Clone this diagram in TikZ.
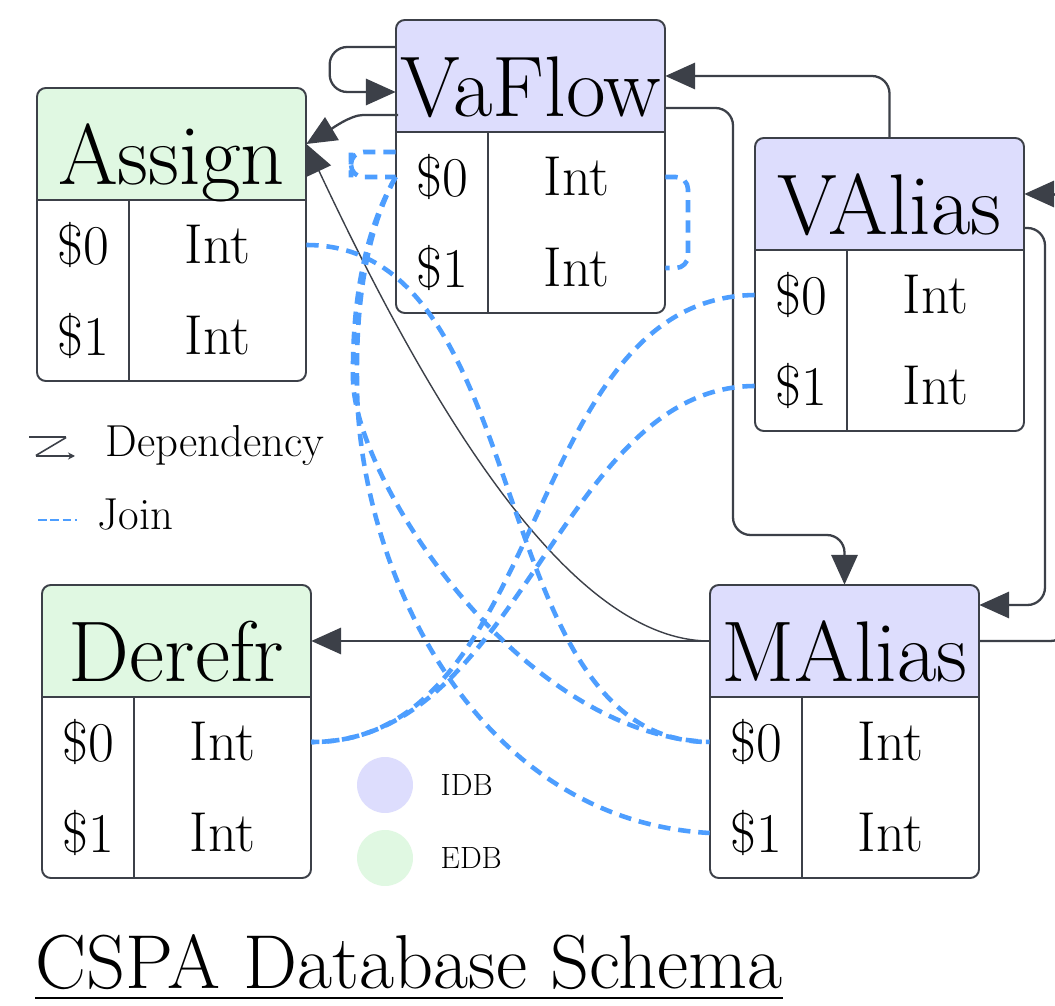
\documentclass[tikz,border=0pt]{standalone}
\usepackage{xcolor}
\usepackage{tikz}
\usetikzlibrary{arrows.meta,positioning,calc}

\definecolor{idb}{RGB}{221,221,253}
\definecolor{edb}{RGB}{224,248,226}
\definecolor{edgecol}{RGB}{60,64,72}
\definecolor{joincol}{RGB}{77,158,255}

\begin{document}
\begin{tikzpicture}[x=0.02cm, y=-0.02cm,
  relframe/.style={draw=edgecol, line width=1.1pt},
  headtext/.style={font=\fontsize{49}{54}\selectfont, anchor=base, inner sep=0pt},
  cell/.style={font=\fontsize{32}{36}\selectfont, inner sep=0pt, minimum height=1.81cm},
  dep/.style={draw=edgecol, line width=1.3pt, rounded corners=10pt, -{Triangle[length=17pt,width=15pt]}},
  joinline/.style={draw=joincol, line width=2.6pt, dash pattern=on 7pt off 4.5pt},
  legend/.style={font=\fontsize{25.5}{29}\selectfont, anchor=base west, inner sep=0pt},
  dot/.style={circle, minimum size=1.12cm, inner sep=0pt},
  small/.style={font=\fontsize{17.5}{21}\selectfont, inner sep=0pt},
  titletext/.style={font=\fontsize{43.5}{50}\selectfont, anchor=base west, inner sep=0pt}]

\useasboundingbox (0,0) rectangle (1055,1006);
\fill[white] (0,0) rectangle (1055,1006);

% Relations: name / left / top / label / colour
\foreach \tname/\tx/\ty/\tlabel/\tfill in {assign/37/88/Assign/edb, vaflow/396/20/VaFlow/idb,
    valias/755/138/VAlias/idb, derefr/42/585/Derefr/edb, malias/710/585/MAlias/idb}{
  \begin{scope}[shift={(\tx,\ty)}]
    \fill[\tfill, rounded corners=5pt] (0,0) rectangle (269,130);
    \fill[white] (0,112) rectangle (269,140);
    \draw[relframe, rounded corners=5pt] (0,0) rectangle (269,293);
    \draw[relframe] (0,112) -- (269,112);
    \draw[relframe] (92,112) -- (92,293);
    \node[minimum width=5.38cm, minimum height=2.24cm, inner sep=0pt] (\tname) at (134.5,56) {};
    \node[headtext] (\tname-name) at (134.5,97) {\tlabel};
    \node[cell, minimum width=1.84cm] (\tname-k0) at (46,157) {\$0};
    \node[cell, minimum width=3.54cm] (\tname-t0) at (180.5,157) {Int};
    \node[cell, minimum width=1.84cm] (\tname-k1) at (46,248) {\$1};
    \node[cell, minimum width=3.54cm] (\tname-t1) at (180.5,248) {Int};
  \end{scope}
}

% Dependencies
\draw[dep] ($(vaflow.west)+(0,-29)$) -- ++(-66,0) -- ++(0,45) -- ($(vaflow.west)+(0,16)$);
\draw[dep] ($(vaflow.west)+(0,39)$) -- ++(-15,0) .. controls +(-30,0) and +(25,-15) .. (assign.east);
\draw[dep, line width=0.8pt] (malias.west) .. controls (560,641) and (415,375) .. (assign.east);
\draw[dep] (malias.west) -- (derefr.east);
\draw[dep] (valias.north) |- (vaflow.east);
\draw[dep] ($(vaflow.east)+(0,32)$) -| (733,535) -| (malias.north);
\draw[dep] ($(valias.east)+(0,34)$) -| (1045,605) -- ($(malias.east)+(0,-36)$);
\draw[dep] (malias.east) -| (1068,420) |- (valias.east);

% Joins
\draw[joinline, rounded corners=7pt] (vaflow-t0.east) -| (688,225) |- (vaflow-t1.east);
\draw[joinline, rounded corners=7pt] ($(vaflow-k0.west)+(0,-25)$) -| (351,165) |- (vaflow-k0.west);
\draw[joinline] (vaflow-k0.west) .. controls (365,230) and (352,300) .. (353,380)
  .. controls (355,480) and (520,735) .. (malias-k0.west);
\draw[joinline] (vaflow-k0.west) .. controls (367,230) and (356,300) .. (357,380)
  .. controls (356,560) and (470,820) .. (malias-k1.west);
\draw[joinline] (assign-t0.east) .. controls (540,245) and (480,743) .. (malias-k0.west);
\draw[joinline] (valias-k0.west) .. controls (520,298) and (550,743) .. (derefr-t0.east);
\draw[joinline] (valias-k1.west) .. controls (560,387) and (520,743) .. (derefr-t0.east);

% Legend
\draw[edgecol, line width=0.9pt, rounded corners=1pt, -{Stealth[length=4pt,width=4pt]}]
  (29,437) -- (67,437) -- (35,456) -- (75,456);
\node[legend] (deplbl) at (105,457) {Dependency};
\draw[joincol, line width=1.2pt, dash pattern=on 5pt off 2pt] (38,520) -- (77,520);
\node[legend] (joinlbl) at (97,530) {Join};

\node[dot, fill=idb] (idbdot) at (385,785) {};
\node[small, right=0.54cm of idbdot] (idblbl) {IDB};
\node[dot, fill=edb] (edbdot) at (385,858) {};
\node[small, right=0.54cm of edbdot] (edblbl) {EDB};

% Title
\node[titletext] (title) at (35,988) {CSPA Database Schema};
\draw[line width=1.7pt] ($(title.base west)+(0,10)$) -- ($(title.base east)+(0,10)$);

\end{tikzpicture}
\end{document}
